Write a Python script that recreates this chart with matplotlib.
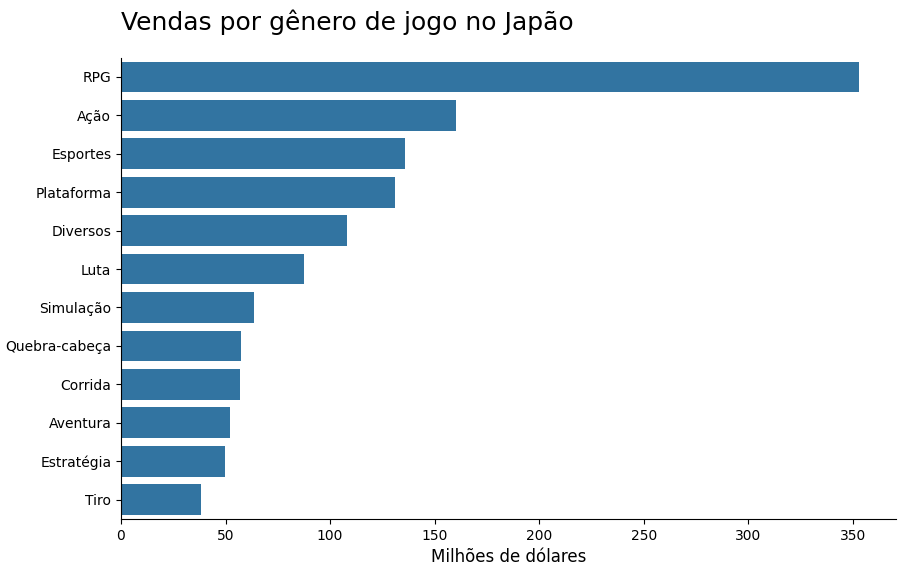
import matplotlib
matplotlib.use("Agg")
import matplotlib.pyplot as plt

generos = ["RPG", "Ação", "Esportes", "Plataforma", "Diversos", "Luta", "Simulação",
           "Quebra-cabeça", "Corrida", "Aventura", "Estratégia", "Tiro"]
vendas = [352.9, 160.2, 135.8, 131.0, 108.1, 87.5, 63.6, 57.4, 56.9, 52.1, 49.7, 38.3]

fig = plt.figure(figsize=(9.05, 5.72), dpi=100)
ax = fig.add_axes([0.1337, 0.093, 0.8563, 0.806])
y = list(range(len(generos)))
ax.barh(y, vendas, height=0.8, color="#3274a1")
ax.set_yticks(y)
ax.set_yticklabels(generos)
ax.set_ylim(len(generos) - 0.5, -0.5)
ax.set_xlim(0, 370.6)
ax.spines["top"].set_visible(False)
ax.spines["right"].set_visible(False)
ax.set_xlabel("Milhões de dólares", fontsize=12)
ax.set_title("Vendas por gênero de jogo no Japão", loc="left", fontsize=18, pad=20)
fig.savefig("out.png", dpi=100)
